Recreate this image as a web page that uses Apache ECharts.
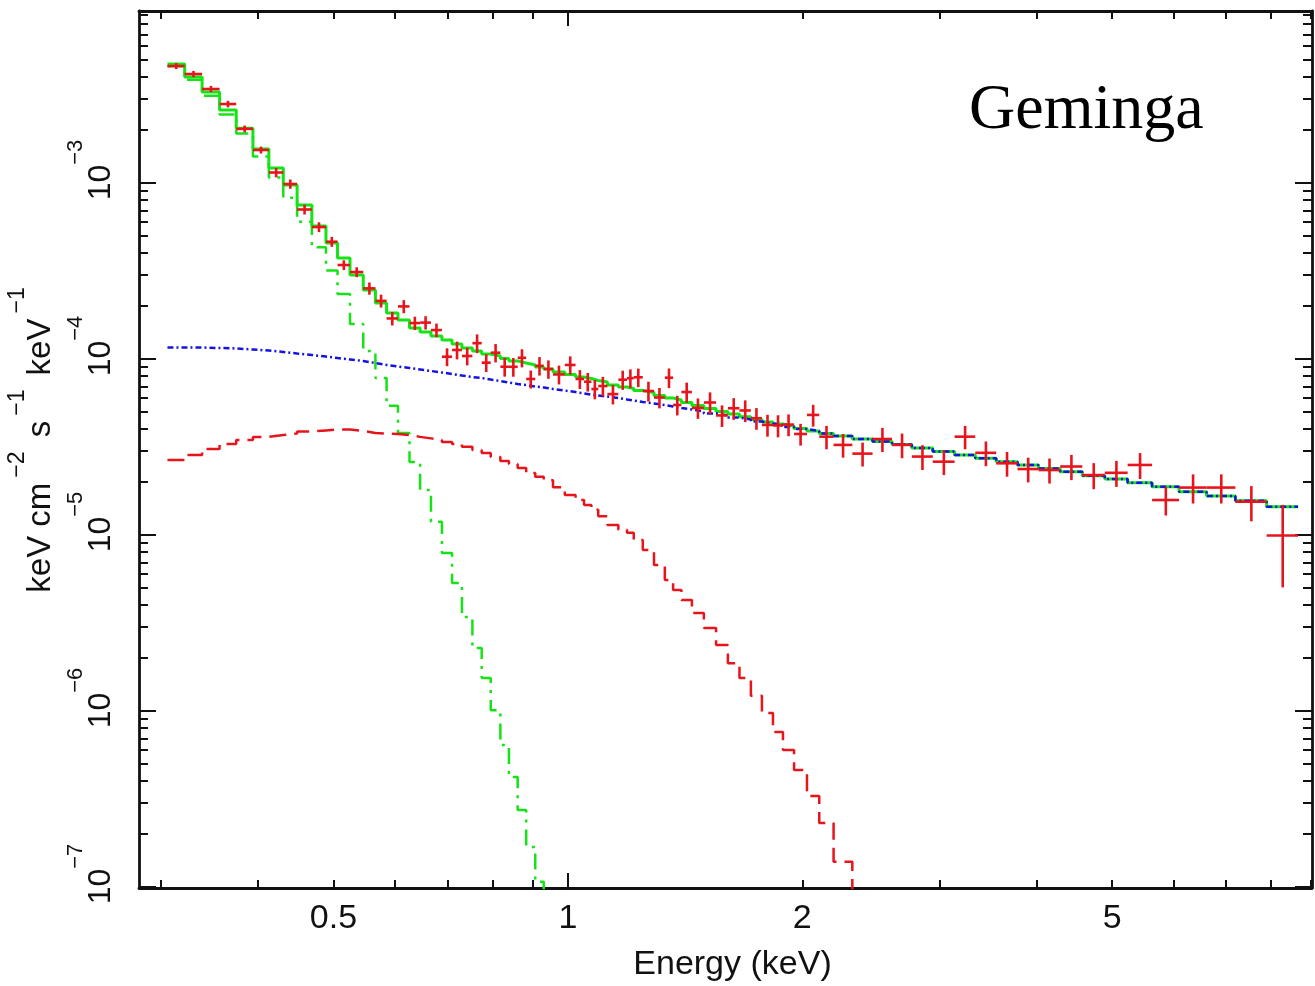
<!DOCTYPE html>
<html>
<head>
<meta charset="utf-8">
<script src="https://cdn.jsdelivr.net/npm/echarts@6/dist/echarts.min.js"></script>
<style>
  html, body { margin: 0; padding: 0; background: #ffffff; }
  #chart { width: 1315px; height: 986px; }
</style>
</head>
<body>
<div id="chart"></div>
<script>
// Geminga X-ray spectrum: unfolded data with a two-blackbody + power-law model.

// Energy bin edges (keV); bin i spans binEdges[i] .. binEdges[i+1]
const binEdges = [
  0.306, 0.322, 0.339, 0.357, 0.375, 0.394, 0.413, 0.431, 0.449, 0.469,
  0.489, 0.506, 0.525, 0.546, 0.566, 0.585, 0.605, 0.626, 0.646, 0.667,
  0.689, 0.710, 0.731, 0.754, 0.775, 0.796, 0.819, 0.840, 0.862, 0.884,
  0.908, 0.931, 0.957, 0.991, 1.023, 1.049, 1.072, 1.094, 1.124, 1.161,
  1.191, 1.215, 1.248, 1.290, 1.332, 1.365, 1.399, 1.443, 1.495, 1.550,
  1.605, 1.661, 1.718, 1.775, 1.834, 1.889, 1.952, 2.028, 2.103, 2.194,
  2.319, 2.462, 2.608, 2.765, 2.942, 3.138, 3.336, 3.549, 3.780, 4.022,
  4.288, 4.578, 4.893, 5.235, 5.627, 6.094, 6.611, 7.199, 7.896, 8.666
];

// Observed flux per bin (keV cm^-2 s^-1 keV^-1)
const fluxObs = [
  4.62e-3, 4.16e-3, 3.42e-3, 2.81e-3, 2.03e-3, 1.54e-3, 1.147e-3, 9.87e-4, 7.07e-4, 5.62e-4,
  4.64e-4, 3.42e-4, 3.12e-4, 2.52e-4, 2.14e-4, 1.70e-4, 1.99e-4, 1.60e-4, 1.61e-4, 1.46e-4,
  1.03e-4, 1.125e-4, 1.04e-4, 1.23e-4, 9.53e-5, 1.086e-4, 9.04e-5, 9.03e-5, 1.016e-4, 7.70e-5,
  9.15e-5, 8.77e-5, 8.17e-5, 9.25e-5, 7.70e-5, 7.43e-5, 6.75e-5, 7.02e-5, 6.32e-5, 7.63e-5,
  7.78e-5, 7.87e-5, 6.58e-5, 6.04e-5, 7.83e-5, 5.48e-5, 6.49e-5, 5.27e-5, 5.66e-5, 4.78e-5,
  5.25e-5, 5.10e-5, 4.61e-5, 4.22e-5, 4.19e-5, 4.24e-5, 3.75e-5, 4.81e-5, 3.62e-5, 3.25e-5,
  2.90e-5, 3.51e-5, 3.25e-5, 2.79e-5, 2.61e-5, 3.62e-5, 2.93e-5, 2.555e-5, 2.37e-5, 2.34e-5,
  2.45e-5, 2.19e-5, 2.256e-5, 2.50e-5, 1.58e-5, 1.86e-5, 1.86e-5, 1.546e-5, 9.94e-6
];

// 1-sigma flux uncertainty per bin
const fluxErr = [
  1.8e-4, 1.7e-4, 1.4e-4, 1.2e-4, 9.0e-5, 7.0e-5, 7.0e-5, 6.0e-5, 4.5e-5, 3.6e-5,
  3.0e-5, 2.2e-5, 2.0e-5, 2.0e-5, 1.8e-5, 1.5e-5, 1.7e-5, 1.4e-5, 1.4e-5, 1.3e-5,
  1.2e-5, 1.3e-5, 1.2e-5, 1.5e-5, 1.1e-5, 1.3e-5, 1.1e-5, 1.1e-5, 1.2e-5, 9.0e-6,
  1.1e-5, 1.05e-5, 1.0e-5, 1.1e-5, 9.5e-6, 9.0e-6, 8.5e-6, 9.0e-6, 8.0e-6, 9.5e-6,
  9.5e-6, 9.5e-6, 8.5e-6, 8.0e-6, 1.0e-5, 7.0e-6, 8.5e-6, 7.0e-6, 8.0e-6, 6.7e-6,
  7.4e-6, 7.2e-6, 6.5e-6, 6.0e-6, 6.0e-6, 6.0e-6, 5.3e-6, 6.8e-6, 5.5e-6, 5.0e-6,
  4.5e-6, 5.5e-6, 5.2e-6, 4.5e-6, 4.2e-6, 5.5e-6, 4.7e-6, 4.1e-6, 3.8e-6, 3.8e-6,
  4.0e-6, 3.7e-6, 3.8e-6, 4.2e-6, 2.9e-6, 3.5e-6, 3.5e-6, 3.5e-6, 4.9e-6
];

// Total model
const modelTotal = [
  4.74e-3, 4.00e-3, 3.29e-3, 2.60e-3, 2.05e-3, 1.56e-3, 1.217e-3, 9.74e-4, 7.50e-4, 5.70e-4,
  4.56e-4, 3.75e-4, 3.00e-4, 2.47e-4, 2.08e-4, 1.825e-4, 1.665e-4, 1.50e-4, 1.423e-4, 1.351e-4,
  1.282e-4, 1.217e-4, 1.155e-4, 1.110e-4, 1.067e-4, 1.040e-4, 1.006e-4, 9.74e-5, 9.49e-5, 9.25e-5,
  9.01e-5, 8.77e-5, 8.43e-5, 8.17e-5, 7.90e-5, 7.75e-5, 7.55e-5, 7.40e-5, 7.12e-5, 6.93e-5,
  6.80e-5, 6.62e-5, 6.45e-5, 6.20e-5, 6.00e-5, 5.85e-5, 5.66e-5, 5.44e-5, 5.23e-5, 5.03e-5,
  4.87e-5, 4.70e-5, 4.53e-5, 4.39e-5, 4.27e-5, 4.16e-5, 4.03e-5, 3.90e-5, 3.77e-5, 3.65e-5,
  3.51e-5, 3.40e-5, 3.27e-5, 3.12e-5, 2.98e-5, 2.85e-5, 2.73e-5, 2.61e-5, 2.50e-5, 2.39e-5,
  2.29e-5, 2.173e-5, 2.08e-5, 1.982e-5, 1.88e-5, 1.762e-5, 1.665e-5, 1.566e-5, 1.448e-5
];

// Power-law component
const modelPowerLaw = [
  1.162e-4, 1.162e-4, 1.155e-4, 1.148e-4, 1.132e-4, 1.117e-4, 1.096e-4, 1.074e-4, 1.054e-4, 1.033e-4,
  1.013e-4, 9.94e-5, 9.74e-5, 9.49e-5, 9.25e-5, 9.07e-5, 8.89e-5, 8.72e-5, 8.55e-5, 8.38e-5,
  8.22e-5, 8.06e-5, 7.90e-5, 7.80e-5, 7.65e-5, 7.50e-5, 7.35e-5, 7.21e-5, 7.12e-5, 6.98e-5,
  6.89e-5, 6.75e-5, 6.62e-5, 6.49e-5, 6.37e-5, 6.28e-5, 6.20e-5, 6.12e-5, 6.00e-5, 5.89e-5,
  5.81e-5, 5.70e-5, 5.59e-5, 5.48e-5, 5.37e-5, 5.27e-5, 5.16e-5, 5.03e-5, 4.90e-5, 4.78e-5,
  4.65e-5, 4.53e-5, 4.41e-5, 4.30e-5, 4.22e-5, 4.11e-5, 4.00e-5, 3.90e-5, 3.77e-5, 3.65e-5,
  3.51e-5, 3.40e-5, 3.27e-5, 3.12e-5, 2.98e-5, 2.85e-5, 2.73e-5, 2.61e-5, 2.50e-5, 2.39e-5,
  2.29e-5, 2.173e-5, 2.08e-5, 1.982e-5, 1.88e-5, 1.762e-5, 1.665e-5, 1.566e-5, 1.448e-5
];

// Hot blackbody component (null where it is off the plot)
const modelHotBB = [
  2.67e-5, 2.85e-5, 3.08e-5, 3.29e-5, 3.47e-5, 3.61e-5, 3.70e-5, 3.77e-5, 3.87e-5, 3.93e-5,
  3.98e-5, 3.98e-5, 3.90e-5, 3.80e-5, 3.77e-5, 3.75e-5, 3.70e-5, 3.61e-5, 3.54e-5, 3.47e-5,
  3.38e-5, 3.29e-5, 3.17e-5, 3.04e-5, 2.92e-5, 2.77e-5, 2.63e-5, 2.53e-5, 2.40e-5, 2.25e-5,
  2.14e-5, 2.05e-5, 1.87e-5, 1.69e-5, 1.58e-5, 1.48e-5, 1.39e-5, 1.28e-5, 1.14e-5, 1.07e-5,
  1.03e-5, 9.36e-6, 8.22e-6, 6.75e-6, 5.55e-6, 4.87e-6, 4.27e-6, 3.60e-6, 2.96e-6, 2.37e-6,
  1.87e-6, 1.54e-6, 1.22e-6, 9.74e-7, 7.60e-7, 6.00e-7, 4.62e-7, 3.29e-7, 2.31e-7, 1.39e-7,
  8.5e-8, null, null, null, null, null, null, null, null, null,
  null, null, null, null, null, null, null, null, null
];

// Cool blackbody component (null where it is off the plot)
const modelCoolBB = [
  4.60e-3, 3.86e-3, 3.13e-3, 2.45e-3, 1.91e-3, 1.415e-3, 1.075e-3, 8.25e-4, 6.03e-4, 4.32e-4,
  3.18e-4, 2.34e-4, 1.58e-4, 1.11e-4, 7.80e-5, 5.42e-5, 3.80e-5, 2.60e-5, 1.80e-5, 1.19e-5,
  7.90e-6, 5.34e-6, 3.42e-6, 2.28e-6, 1.54e-6, 1.01e-6, 6.41e-7, 4.22e-7, 2.74e-7, 1.69e-7,
  1.07e-7, 7.0e-8, null, null, null, null, null, null, null, null,
  null, null, null, null, null, null, null, null, null, null,
  null, null, null, null, null, null, null, null, null, null,
  null, null, null, null, null, null, null, null, null, null,
  null, null, null, null, null, null, null, null, null
];

// Axis ticks and labels
const xLabelValues = [0.5, 1, 2, 5];
const xMajorTicks = [1];
const xMinorTicks = [0.3, 0.4, 0.5, 0.6, 0.7, 0.8, 0.9, 2, 3, 4, 5, 6, 7, 8, 9];
const yDecades = [1e-7, 1e-6, 1e-5, 1e-4, 1e-3];
const yMinorMultipliers = [2, 3, 4, 5, 6, 7, 8, 9];
const yMinorTicks = yDecades.flatMap(d => yMinorMultipliers.map(m => m * d));

const X_RANGE = [0.2813, 9.03];
const Y_RANGE = [0.987e-7, 9.49e-3];

const SANS = '"Liberation Sans", Arial, Helvetica, sans-serif';
const SERIF = '"Liberation Serif", "Times New Roman", serif';
const INK = '#111111';
const GREEN = '#16e316';
const RED = '#e8141c';
const BLUE = '#1414e0';

// Histogram outline: each bin contributes its left and right edge at the bin value
function stepPoints(values) {
  const pts = [];
  values.forEach((v, i) => {
    if (v == null) return;
    pts.push([binEdges[i], v], [binEdges[i + 1], v]);
  });
  return pts;
}

const crossItems = fluxObs.map((f, i) => [binEdges[i], binEdges[i + 1], f, fluxErr[i]]);

function xAxisDef(position, tickValues, tickLen, withLine, withLabels) {
  return {
    type: 'log', position, min: X_RANGE[0], max: X_RANGE[1],
    axisLine: { show: withLine, lineStyle: { color: INK, width: 2.8 } },
    axisTick: { show: true, inside: true, length: tickLen, customValues: tickValues,
                lineStyle: { color: INK, width: 2 } },
    axisLabel: withLabels ? {
      show: true, customValues: xLabelValues, margin: 14,
      color: INK, fontFamily: SANS, fontSize: 34,
      formatter: v => String(v)
    } : { show: false },
    splitLine: { show: false }, minorTick: { show: false }
  };
}

function yAxisDef(position, tickValues, tickLen, withLine, withLabels) {
  return {
    type: 'log', position, min: Y_RANGE[0], max: Y_RANGE[1],
    axisLine: { show: withLine, lineStyle: { color: INK, width: 2.8 } },
    axisTick: { show: true, inside: true, length: tickLen, customValues: tickValues,
                lineStyle: { color: INK, width: 2 } },
    axisLabel: withLabels ? {
      show: true, customValues: yDecades, rotate: 90, margin: 22,
      formatter: v => '{b|10}{s|\u2212' + Math.round(-Math.log10(v)) + '}',
      rich: {
        b: { fontFamily: SANS, fontSize: 32, color: INK, lineHeight: 36,
             verticalAlign: 'bottom', padding: [0, 0, 0, 26] },
        s: { fontFamily: SANS, fontSize: 22, color: INK, lineHeight: 24,
             verticalAlign: 'bottom', padding: [0, 0, 30, 0] }
      }
    } : { show: false },
    splitLine: { show: false }, minorTick: { show: false }
  };
}

const xAxes = [
  xAxisDef('bottom', xMajorTicks, 15, true, true),
  xAxisDef('bottom', xMinorTicks, 8, false, false),
  xAxisDef('top', xMajorTicks, 15, true, false),
  xAxisDef('top', xMinorTicks, 8, false, false)
];
Object.assign(xAxes[0], {
  name: 'Energy (keV)', nameLocation: 'middle', nameGap: 60,
  nameTextStyle: { fontFamily: SANS, fontSize: 34, color: INK, padding: [0, 0, 0, 14] }
});

const yAxes = [
  yAxisDef('left', yDecades, 17, true, true),
  yAxisDef('left', yMinorTicks, 9, false, false),
  yAxisDef('right', yDecades, 17, true, false),
  yAxisDef('right', yMinorTicks, 9, false, false)
];
Object.assign(yAxes[0], {
  name: 'keV cm{s|\u22122} s{s|\u22121} keV{s|\u22121}',
  nameLocation: 'middle', nameRotate: 90, nameGap: 82,
  nameTextStyle: {
    fontFamily: SANS, fontSize: 33, color: INK, padding: [0, 0, 0, 24],
    rich: {
      s: { fontFamily: SANS, fontSize: 23, color: INK, lineHeight: 24,
           verticalAlign: 'bottom', padding: [0, 5, 28, 5] }
    }
  }
});

const chart = echarts.init(document.getElementById('chart'), null, { renderer: 'canvas' });
chart.setOption({
  animation: false,
  backgroundColor: '#ffffff',
  title: {
    text: 'Geminga', left: 964, top: 74,
    textStyle: { fontFamily: SERIF, fontSize: 64, fontWeight: 'normal', color: '#000000' }
  },
  grid: { left: 139, right: 3, top: 11, bottom: 98, outerBoundsMode: 'none' },
  xAxis: xAxes,
  yAxis: yAxes,
  series: [
    {
      name: 'Total model', type: 'line', xAxisIndex: 0, yAxisIndex: 0,
      data: stepPoints(modelTotal), showSymbol: false, symbol: 'none', clip: true,
      lineStyle: { color: GREEN, width: 3 }, z: 2
    },
    {
      name: 'Cool blackbody', type: 'line', xAxisIndex: 0, yAxisIndex: 0,
      data: stepPoints(modelCoolBB), showSymbol: false, symbol: 'none', clip: true,
      lineStyle: { color: GREEN, width: 2.5, type: [16, 7, 3, 7] }, z: 3
    },
    {
      name: 'Hot blackbody', type: 'line', xAxisIndex: 0, yAxisIndex: 0,
      data: stepPoints(modelHotBB), showSymbol: false, symbol: 'none', clip: true,
      lineStyle: { color: RED, width: 2.5, type: [17, 8] }, z: 3
    },
    {
      name: 'Power law', type: 'line', xAxisIndex: 0, yAxisIndex: 0,
      data: stepPoints(modelPowerLaw), showSymbol: false, symbol: 'none', clip: true,
      lineStyle: { color: BLUE, width: 2.5, type: [6, 3, 2, 3] }, z: 4
    },
    {
      name: 'Data', type: 'custom', xAxisIndex: 0, yAxisIndex: 0,
      encode: { x: [0, 1], y: [2] },
      data: crossItems, z: 5, clip: true,
      renderItem(params, api) {
        const lo = api.value(0), hi = api.value(1), f = api.value(2), s = api.value(3);
        const left = api.coord([lo, f]);
        const right = api.coord([hi, f]);
        const xc = api.coord([(lo + hi) / 2, f])[0];
        const yTop = api.coord([lo, f + s])[1];
        const yBot = api.coord([lo, f - s])[1];
        const style = { stroke: RED, lineWidth: 2.6, fill: null };
        return {
          type: 'group',
          children: [
            { type: 'line', shape: { x1: left[0], y1: left[1], x2: right[0], y2: right[1] }, style },
            { type: 'line', shape: { x1: xc, y1: yTop, x2: xc, y2: yBot }, style }
          ]
        };
      }
    }
  ]
});
</script>
</body>
</html>
